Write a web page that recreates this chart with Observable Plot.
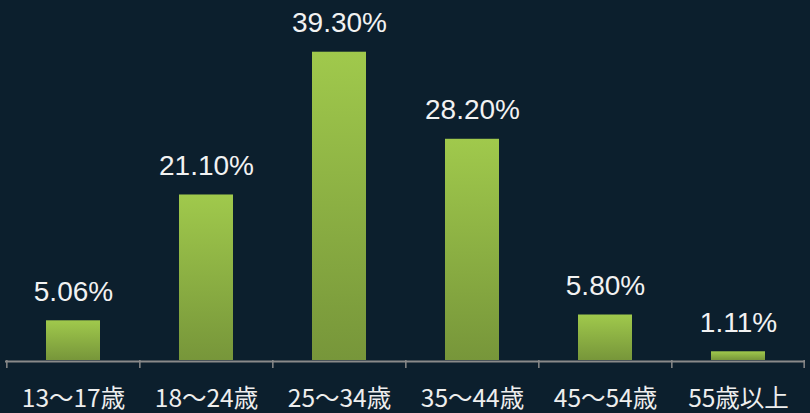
<!DOCTYPE html>
<html>
<head>
<meta charset="utf-8">
<script src="https://cdn.jsdelivr.net/npm/d3@7"></script>
<script src="https://cdn.jsdelivr.net/npm/@observablehq/plot@0.6"></script>
<style>
  html, body { margin: 0; padding: 0; background: #0c1f2d; }
  #chart svg { display: block; }
</style>
</head>
<body>
<div id="chart"></div>
<script>
const categories = ["13～17歳", "18～24歳", "25～34歳", "35～44歳", "45～54歳", "55歳以上"];
const values = [5.06, 21.10, 39.30, 28.20, 5.80, 1.11];
const valueLabels = ["5.06%", "21.10%", "39.30%", "28.20%", "5.80%", "1.11%"];

const data = categories.map((c, i) => ({cat: c, value: values[i], label: valueLabels[i]}));

const W = 810, H = 413, ML = 5, MR = 5;
const step = (W - ML - MR) / categories.length;

const chart = Plot.plot({
  width: W,
  height: H,
  marginLeft: ML,
  marginRight: MR,
  marginTop: 7,
  marginBottom: 53,
  style: {background: "#0c1f2d", color: "#eeeeee", overflow: "visible"},
  x: {domain: categories, paddingInner: 0.595, paddingOuter: 0.2975, label: null},
  y: {domain: [0, 45], axis: null},
  marks: [
    Plot.barY(data, {x: "cat", y: "value", fill: "url(#barGrad)", style: "filter:url(#barShadow)"}),
    Plot.ruleY([0], {stroke: "#8a8a8a", strokeWidth: 2, dy: 1}),
    Plot.ruleX(data, {x: "cat", y1: 0, y2: 0, dx: -step / 2, insetTop: 0, insetBottom: -8, stroke: "#8a8a8a", strokeWidth: 1.5}),
    Plot.ruleX(data.slice(-1), {x: "cat", y1: 0, y2: 0, dx: step / 2 - 1, insetTop: 0, insetBottom: -8, stroke: "#8a8a8a", strokeWidth: 1.5}),
    Plot.text(data, {x: "cat", y: "value", text: "label", dy: -20, lineAnchor: "bottom",
      fill: "#f2f2f2", fontSize: 28, fontFamily: "Liberation Sans, Arial, sans-serif"}),
    Plot.axisX({tickSize: 0, tickPadding: 29, fontSize: 24.5, fontFamily: "'Noto Sans CJK JP', sans-serif", fill: "#eeeeee"})
  ]
});

const svg = d3.select(chart);
const defs = svg.insert("defs", ":first-child");
const g = defs.append("linearGradient").attr("id", "barGrad").attr("x1", 0).attr("y1", 0).attr("x2", 0).attr("y2", 1);
g.append("stop").attr("offset", "0%").attr("stop-color", "#a0c94c");
g.append("stop").attr("offset", "100%").attr("stop-color", "#77963a");
const f = defs.append("filter").attr("id", "barShadow").attr("x", "-20%").attr("y", "-20%").attr("width", "140%").attr("height", "140%");
f.append("feDropShadow").attr("dx", 2).attr("dy", 3).attr("stdDeviation", 3).attr("flood-color", "#000").attr("flood-opacity", 0.35);

document.getElementById("chart").appendChild(chart);
</script>
</body>
</html>
